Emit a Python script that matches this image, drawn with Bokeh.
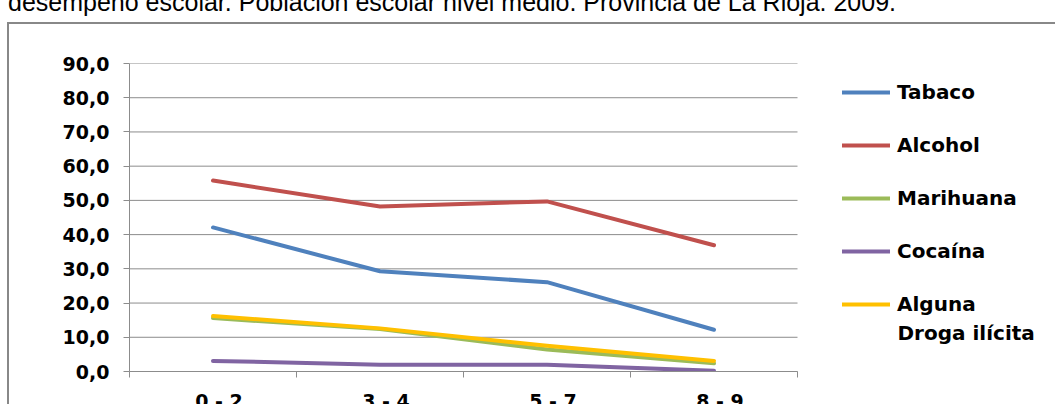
from bokeh.plotting import figure
from bokeh.layouts import column
from bokeh.models import (Range1d, LinearAxis, FixedTicker, Legend, LegendItem, Label, Div)
from bokeh.embed import file_html
from bokeh.resources import INLINE

# ---- data ----
categories = ["0 - 2", "3 - 4", "5 - 7", "8 - 9"]
tabaco = [42.1, 29.3, 26.1, 12.2]
alcohol = [55.8, 48.2, 49.7, 36.9]
marihuana = [15.6, 12.4, 6.4, 2.4]
cocaina = [3.1, 2.0, 2.0, 0.2]
alguna = [16.2, 12.6, 7.5, 3.1]
series_names = ["Tabaco", "Alcohol", "Marihuana", "Cocaína", "Alguna Droga ilícita"]
series_values = [tabaco, alcohol, marihuana, cocaina, alguna]
series_colors = ["#4F81BD", "#C0504D", "#9BBB59", "#8064A2", "#FFC000"]
y_ticks = [0, 10, 20, 30, 40, 50, 60, 70, 80, 90]
title_text = "desempeño escolar. Población escolar nivel medio. Provincia de La Rioja. 2009."

# ---- layout constants (page pixels) ----
W, H = 1055, 404
TOP_H = 12                      # strip holding the (cut-off) title line
FL, FR, FT, FB = 129, 797, 53, 362
GRAY = "#8c8c8c"
FONT = "DejaVu Sans"

# ---------------- title strip (only its lower part is visible, as in the source) ----------------
title_div = Div(text=title_text, width=W, height=TOP_H,
                styles={"font-family": "'Liberation Sans', Arial, sans-serif",
                        "font-size": "25px", "line-height": "0px",
                        "white-space": "nowrap", "color": "black",
                        "background-color": "white",
                        "transform": "translate(3px, -3px)"})

# ---------------- chart ----------------
n = len(categories)
x_pos = [i + 0.5 for i in range(n)]          # category centres on a 0..n axis
x_end = n * (W - FL) / (FR - FL)             # frame continues under the legend

p = figure(width=W, height=H - TOP_H,
           x_range=Range1d(0, x_end), y_range=Range1d(0, 90),
           output_backend="svg", toolbar_location=None,
           x_axis_location=None, y_axis_location="left",
           min_border_left=FL, min_border_right=0,
           min_border_top=FT - TOP_H, min_border_bottom=H - FB,
           background_fill_color=None, border_fill_color=None)
p.outline_line_color = None
p.xgrid.visible = False
p.ygrid.visible = False
# white area with the grey chart-area border (left and top edges)
p.styles = {
    "background-color": "white",
    "background-image": "linear-gradient(#888888, #888888), linear-gradient(#888888, #888888)",
    "background-size": "2px 100%, 100% 2px",
    "background-position": "7px 0px, 7px 0px",
    "background-repeat": "no-repeat",
}

p.extra_x_ranges = {"px": Range1d(FL, W)}
p.extra_y_ranges = {"py": Range1d(FB, FT)}

# y axis
yax = p.yaxis[0]
yax.ticker = FixedTicker(ticks=y_ticks)
yax.major_label_overrides = {v: f"{v:.1f}".replace(".", ",") for v in y_ticks}
yax.major_tick_out = 6
yax.major_tick_in = 0
yax.minor_tick_out = 0
yax.minor_tick_in = 0
yax.axis_line_color = GRAY
yax.major_tick_line_color = GRAY
yax.major_label_standoff = 14
yax.major_label_text_font = FONT
yax.major_label_text_font_style = "bold"
yax.major_label_text_font_size = "19px"
yax.major_label_text_color = "black"

# horizontal gridlines across the category area only
p.segment(x0=[0] * len(y_ticks), x1=[n] * len(y_ticks), y0=y_ticks, y1=y_ticks,
          line_color=GRAY, line_width=1, level="underlay")

# x axis: labels at category centres, tick marks at category boundaries
label_shift = 6.0 * n / (FR - FL)
centres = [x + label_shift for x in x_pos]
xax = LinearAxis(ticker=FixedTicker(ticks=centres, minor_ticks=list(range(n + 1))),
                 bounds=(0, n),
                 major_label_overrides={c: lab for c, lab in zip(centres, categories)},
                 major_tick_out=0, major_tick_in=0,
                 minor_tick_out=6, minor_tick_in=0,
                 axis_line_color=GRAY, minor_tick_line_color=GRAY,
                 major_tick_line_color=None,
                 major_label_standoff=12,
                 major_label_text_font=FONT,
                 major_label_text_font_style="bold",
                 major_label_text_font_size="19px",
                 major_label_text_color="black")
p.add_layout(xax, "below")

# lines
items = []
extra_lines = []
for name, vals, col in zip(series_names, series_values, series_colors):
    r = p.line(x=x_pos, y=vals, line_color=col, line_width=4,
               line_cap="round", line_join="round")
    parts = name.split(" ", 1) if name.startswith("Alguna") else [name]
    items.append(LegendItem(label=parts[0], renderers=[r]))
    if len(parts) > 1:
        extra_lines.append(parts[1])

legend = Legend(items=items, location=(713, 55), orientation="vertical",
                border_line_color=None, background_fill_alpha=0,
                padding=0, margin=0, spacing=29,
                glyph_width=48, glyph_height=20, label_height=20,
                label_standoff=7,
                label_text_font=FONT, label_text_font_style="bold",
                label_text_font_size="20px", label_text_color="black")
p.add_layout(legend)

# second line of the last legend label
for txt in extra_lines:
    p.add_layout(Label(x=897, y=323.5, x_range_name="px", y_range_name="py",
                       text=txt, text_align="left", text_baseline="alphabetic",
                       text_font=FONT, text_font_style="bold",
                       text_font_size="20px", text_color="black"))

root = column(title_div, p, spacing=0)
open("out.html", "w").write(file_html(root, INLINE))
